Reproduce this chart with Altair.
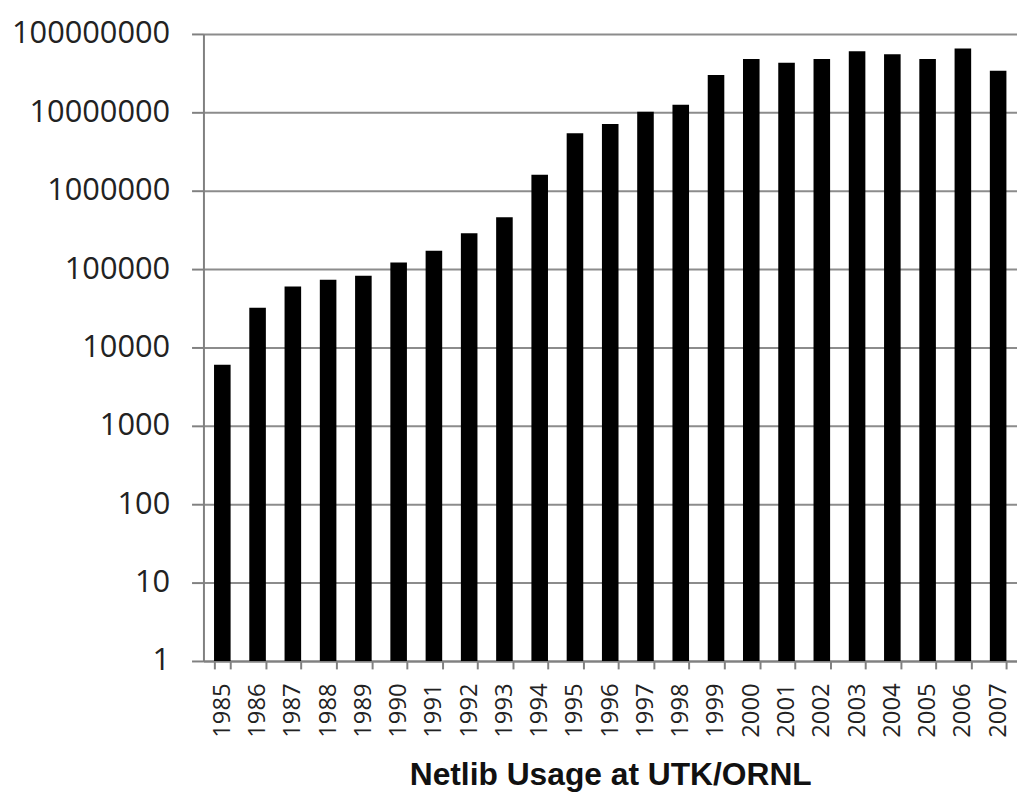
import altair as alt
import pandas as pd

years = [str(y) for y in range(1985, 2008)]
usage = [6000, 32000, 60000, 73000, 82000, 121000, 171000, 287000, 459000,
         1600000, 5400000, 7100000, 10200000, 12500000, 30000000, 48000000,
         43000000, 48000000, 60000000, 55000000, 48000000, 65000000, 34000000]
y_ticks = [1, 10, 100, 1000, 10000, 100000, 1000000, 10000000, 100000000]

df = pd.DataFrame({"year": years, "usage": usage})

chart = alt.Chart(df).mark_bar(color="black").encode(
    x=alt.X("year:N", sort=years,
            scale=alt.Scale(paddingInner=0.53, paddingOuter=0.3),
            axis=alt.Axis(title="Netlib Usage at UTK/ORNL", labelAngle=-90,
                          labelFont="Open Sans", labelFontSize=24, labelColor="#222",
                          labelPadding=14, tickBand="extent", tickSize=8,
                          tickColor="#808080", tickWidth=2,
                          domainColor="#808080", domainWidth=2,
                          titleFont="Liberation Sans", titleFontSize=32,
                          titleFontWeight="bold", titleColor="#111",
                          titlePadding=23)),
    y=alt.Y("usage:Q",
            scale=alt.Scale(type="log", domain=[1, 100000000], nice=False),
            axis=alt.Axis(title=None, values=y_ticks, format="d",
                          labelFont="Open Sans", labelFontSize=31, labelColor="#222",
                          labelPadding=22, tickSize=12, tickColor="#808080",
                          tickWidth=2, domainColor="#808080", domainWidth=2,
                          gridColor="#8c8c8c", gridWidth=2, grid=True)),
    y2=alt.datum(1),
).properties(
    width=820, height=632,
    autosize=alt.AutoSizeParams(type="none"),
    padding={"left": 197, "top": 23, "right": 0, "bottom": 140},
    background="white",
).configure_view(stroke=None)

chart.save("out.html", embed_options={"renderer": "svg", "actions": False})
